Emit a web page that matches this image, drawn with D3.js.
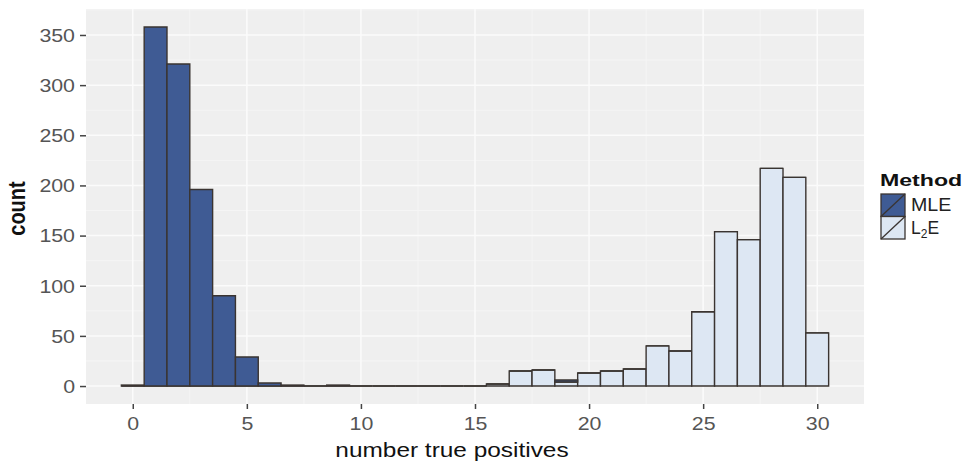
<!DOCTYPE html>
<html>
<head>
<meta charset="utf-8">
<script src="https://cdn.jsdelivr.net/npm/d3@7"></script>
<style>
  html, body { margin: 0; padding: 0; background: #ffffff; }
  svg { display: block; font-family: "Liberation Sans", Arial, sans-serif; }
</style>
</head>
<body>
<svg id="chart" width="972" height="465"></svg>
<script>
// Histogram bins: number of true positives (0..30), counts per method
const bins = d3.range(0, 31);
const mleCounts = [1, 358, 321, 196, 90, 29, 3, 1, 0, 1, 0, 0, 0, 0, 0, 0, 0, 0, 0, 2, 0, 0, 0, 0, 0, 0, 0, 0, 0, 0, 0];
const l2eCounts = [0, 0, 0, 0, 0, 0, 0, 0, 0, 0, 0, 0, 0, 0, 0, 0, 2, 15, 16, 4, 13, 15, 17, 40, 35, 74, 154, 146, 217, 208, 53];
const methods = ["MLE", "L2E"];
const xTicks = [0, 5, 10, 15, 20, 25, 30];
const yTicks = [0, 50, 100, 150, 200, 250, 300, 350];

const fills = { MLE: "#3f5b94", L2E: "#dde7f3" };
const outline = "#3a3431";
const WIDEN = 1.22; // horizontal widening of horizontal text

const svg = d3.select("#chart");
const panel = { left: 86, right: 864, top: 9, bottom: 404 };

// widen text horizontally by a factor, keeping its anchor
function widen(sel, k) {
  sel.each(function () {
    const w = this.getComputedTextLength();
    d3.select(this).attr("textLength", w * k).attr("lengthAdjust", "spacingAndGlyphs");
  });
}

const rows = bins.map((b, i) => ({ bin: b, MLE: mleCounts[i], L2E: l2eCounts[i] }));
// stacking order: first level drawn on top
const stacked = d3.stack().keys(["L2E", "MLE"])(rows);
const maxY = d3.max(rows, d => d.MLE + d.L2E);

const x = d3.scaleLinear().domain([-0.5 - 1.55, 30.5 + 1.55]).range([panel.left, panel.right]);
const y = d3.scaleLinear().domain([-maxY * 0.05, maxY * 1.05]).range([panel.bottom, panel.top]);

// panel background
svg.append("rect")
  .attr("x", panel.left).attr("y", panel.top)
  .attr("width", panel.right - panel.left).attr("height", panel.bottom - panel.top)
  .attr("fill", "#efefef");

// grid lines
const g = svg.append("g");
const yMinor = yTicks.map(v => v + 25).filter(v => y(v) > panel.top);
const xMinor = [-2.5, 2.5, 7.5, 12.5, 17.5, 22.5, 27.5].filter(v => x(v) > panel.left);
yMinor.forEach(v => g.append("line").attr("x1", panel.left).attr("x2", panel.right)
  .attr("y1", y(v)).attr("y2", y(v)).attr("stroke", "#f6f6f6").attr("stroke-width", 0.8));
xMinor.forEach(v => g.append("line").attr("y1", panel.top).attr("y2", panel.bottom)
  .attr("x1", x(v)).attr("x2", x(v)).attr("stroke", "#f6f6f6").attr("stroke-width", 0.8));
yTicks.forEach(v => g.append("line").attr("x1", panel.left).attr("x2", panel.right)
  .attr("y1", y(v)).attr("y2", y(v)).attr("stroke", "#fbfbfb").attr("stroke-width", 1.5));
xTicks.forEach(v => g.append("line").attr("y1", panel.top).attr("y2", panel.bottom)
  .attr("x1", x(v)).attr("x2", x(v)).attr("stroke", "#fbfbfb").attr("stroke-width", 1.5));

// bars drawn as closed paths so that empty bins still show their outline
stacked.forEach(layer => {
  svg.append("g").selectAll("path").data(layer).join("path")
    .attr("d", d => {
      const x0 = x(d.data.bin - 0.5), x1 = x(d.data.bin + 0.5);
      const y0 = y(d[0]), y1 = y(d[1]);
      return `M${x0},${y0}H${x1}V${y1}H${x0}Z`;
    })
    .attr("fill", fills[layer.key])
    .attr("stroke", outline)
    .attr("stroke-width", 1.4)
    .attr("stroke-linejoin", "miter");
});

// axes
const xAxis = svg.append("g").attr("transform", `translate(0,${panel.bottom})`)
  .call(d3.axisBottom(x).tickValues(xTicks).tickSize(5).tickPadding(4));
const yAxis = svg.append("g").attr("transform", `translate(${panel.left},0)`)
  .call(d3.axisLeft(y).tickValues(yTicks).tickSize(6).tickPadding(5));
[xAxis, yAxis].forEach(a => {
  a.select(".domain").remove();
  a.selectAll(".tick line").attr("stroke", "#444").attr("stroke-width", 1.5);
  a.selectAll(".tick text").attr("fill", "#555").attr("font-size", 17.5)
    .attr("font-family", "Liberation Sans, Arial, sans-serif");
});
xAxis.selectAll(".tick text").attr("dy", "0.95em");
yAxis.selectAll(".tick text").attr("dy", "0.36em");
widen(xAxis.selectAll(".tick text"), WIDEN);
widen(yAxis.selectAll(".tick text"), WIDEN);

// axis titles
const xTitle = svg.append("text").attr("x", 452).attr("y", 457)
  .attr("text-anchor", "middle").attr("font-size", 20).attr("fill", "#111")
  .text("number true positives");
widen(xTitle, WIDEN);
svg.append("text")
  .attr("transform", `translate(25,${(panel.top + panel.bottom) / 2 + 2}) rotate(-90) scale(1,1.2)`)
  .attr("text-anchor", "middle").attr("font-size", 20).attr("font-weight", "bold").attr("fill", "#111")
  .text("count");

// legend
const lg = svg.append("g").attr("transform", "translate(880,171)");
const lt = lg.append("text").attr("x", 0).attr("y", 15).attr("font-size", 17).attr("font-weight", "bold")
  .attr("fill", "#111").text("Method");
widen(lt, 1.36);
methods.forEach((m, i) => {
  const ky = 23 + i * 22.5;
  lg.append("rect").attr("x", 1).attr("y", ky).attr("width", 24).attr("height", 22.5)
    .attr("fill", fills[m]).attr("stroke", outline).attr("stroke-width", 1.3);
  lg.append("line").attr("x1", 1).attr("y1", ky + 22.5).attr("x2", 25).attr("y2", ky)
    .attr("stroke", outline).attr("stroke-width", 1.3);
  const t = lg.append("text").attr("x", 31).attr("y", ky + 17).attr("font-size", 17.5).attr("fill", "#222");
  if (m === "L2E") {
    t.append("tspan").text("L");
    t.append("tspan").attr("font-size", 12).attr("dy", 4).text("2");
    t.append("tspan").attr("dy", -4).text("E");
  } else {
    t.text(m);
    widen(t, 1.12);
  }
});
</script>
</body>
</html>
